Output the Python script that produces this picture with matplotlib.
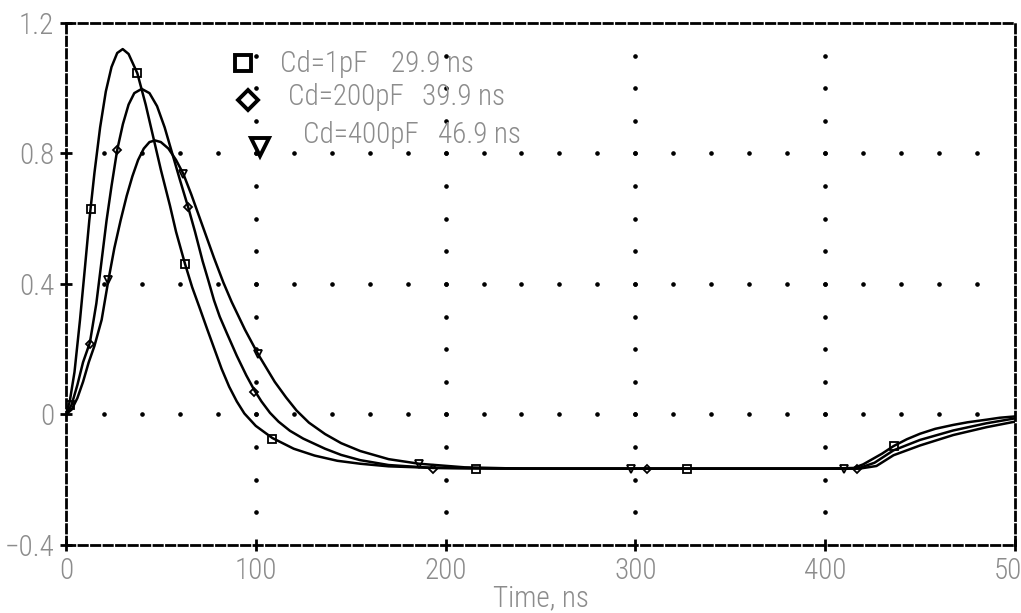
import numpy as np
import matplotlib
matplotlib.use("Agg")
import matplotlib.pyplot as plt
from matplotlib import font_manager as fm

# --- data ---
t_1pF = [0, 2, 4.5, 7.4, 10, 12.3, 15, 18, 21, 24, 27, 29.9, 33, 37.6, 42, 46, 50, 54.8,
         58, 62.7, 66.5, 70.6, 74.5, 78.5, 82, 86, 90, 94, 100, 108.7, 120, 131, 143, 155,
         170, 190, 216, 260, 327, 400, 415, 420, 430, 436, 443, 450, 458, 467.5, 475, 485,
         492, 500]
v_1pF = [0, 0.04, 0.13, 0.29, 0.45, 0.595, 0.74, 0.88, 0.99, 1.065, 1.108, 1.12, 1.105, 1.046,
         0.95, 0.85, 0.75, 0.64, 0.56, 0.462, 0.39, 0.324, 0.26, 0.196, 0.14, 0.085, 0.04,
         0.003, -0.035, -0.072, -0.105, -0.126, -0.142, -0.151, -0.159, -0.163, -0.165,
         -0.166, -0.166, -0.166, -0.164, -0.153, -0.12, -0.097, -0.076, -0.059, -0.044,
         -0.032, -0.024, -0.016, -0.01, -0.006]

t_200pF = [0, 3, 6, 9, 12.6, 16, 21.4, 24, 27, 30, 33, 36, 39.9, 44, 48, 52, 56, 60, 64.4,
           68, 72, 75, 78, 81, 84.7, 90, 95, 99.2, 103, 107.5, 112, 118, 125, 136.5, 145,
           155, 170, 193.5, 230, 306, 400, 417, 426, 436, 450, 467.5, 485, 500]
v_200pF = [0, 0.03, 0.09, 0.16, 0.22, 0.34, 0.595, 0.70, 0.811, 0.89, 0.95, 0.985, 0.998,
           0.985, 0.945, 0.88, 0.80, 0.72, 0.635, 0.56, 0.47, 0.411, 0.35, 0.30, 0.25, 0.18,
           0.12, 0.075, 0.04, 0.005, -0.022, -0.05, -0.074, -0.105, -0.124, -0.14, -0.155,
           -0.164, -0.166, -0.166, -0.166, -0.166, -0.148, -0.11, -0.078, -0.049, -0.027,
           -0.012]

t_400pF = [0, 3, 6, 9, 12, 15, 18.8, 22.3, 25.5, 28.8, 32, 35, 38, 41, 44, 46.9, 50, 54, 58,
           61.8, 66, 70, 74, 78, 82.9, 87.3, 94.3, 101.3, 110, 116, 121.5, 128, 136.5, 145,
           155, 170, 186, 210, 240, 297.7, 410, 418, 427, 436, 450, 467.5, 485, 500]
v_400pF = [0, 0.015, 0.05, 0.10, 0.16, 0.21, 0.29, 0.41, 0.51, 0.595, 0.67, 0.73, 0.78,
           0.815, 0.835, 0.84, 0.835, 0.815, 0.78, 0.738, 0.675, 0.61, 0.545, 0.48, 0.405,
           0.345, 0.26, 0.184, 0.10, 0.052, 0.012, -0.025, -0.06, -0.088, -0.112, -0.137,
           -0.151, -0.162, -0.166, -0.166, -0.166, -0.166, -0.158, -0.125, -0.095, -0.063,
           -0.039, -0.022]

# marker positions along each trace
mk_t_1pF = [2, 13.0, 37.6, 62.7, 108.7, 216, 327, 436]
mk_v_1pF = [0.03, 0.63, 1.046, 0.462, -0.075, -0.166, -0.166, -0.097]
mk_t_200pF = [12.6, 27, 64.4, 99.2, 193.5, 306, 417]
mk_v_200pF = [0.217, 0.811, 0.635, 0.068, -0.166, -0.166, -0.166]
mk_t_400pF = [22.3, 61.8, 101.3, 186, 297.7, 410]
mk_v_400pF = [0.413, 0.738, 0.184, -0.151, -0.166, -0.166]

cap_names = ["Cd=1pF", "Cd=200pF", "Cd=400pF"]
peak_times = ["29.9 ns", "39.9 ns", "46.9 ns"]
xticks = [0, 100, 200, 300, 400, 500]
yticks = [-0.4, 0, 0.4, 0.8, 1.2]
ytick_labels = ["\u22120.4", "0", "0.4", "0.8", "1.2"]

# pick a narrow face if one is around
fonts = fm.fontManager.ttflist
names = {f.name for f in fonts}
font = dict(family="DejaVu Sans", stretch="condensed")
for cand in ["Roboto Condensed", "Liberation Sans Narrow", "Open Sans Condensed",
             "Noto Sans Condensed", "DejaVu Sans Condensed"]:
    if cand in names:
        font = dict(family=cand)
        ws = [f.weight for f in fonts if f.name == cand and f.style == "normal"]
        if any(isinstance(w, int) and w <= 300 for w in ws):
            font["weight"] = "light"
        break

grey = "#8c8c8c"

fig = plt.figure(figsize=(10.21, 6.13), dpi=100)
ax = fig.add_axes([0.0646, 0.111, 0.9295, 0.8515])

# dotted grid (dots every 0.1 on verticals, every 20 ns on horizontals)
gy = np.arange(-0.3, 1.15, 0.1)
for xv in [100, 200, 300, 400]:
    ax.plot([xv] * len(gy), gy, ls="none", marker="o", ms=2.3, color="k", zorder=1)
gx = np.arange(20, 500, 20)
for yv in [0, 0.4, 0.8]:
    ax.plot(gx, [yv] * len(gx), ls="none", marker="o", ms=2.3, color="k", zorder=1)

series = [
    (t_1pF, v_1pF, mk_t_1pF, mk_v_1pF, "s"),
    (t_200pF, v_200pF, mk_t_200pF, mk_v_200pF, "D"),
    (t_400pF, v_400pF, mk_t_400pF, mk_v_400pF, "v"),
]
for t, v, mt, mv, m in series:
    ax.plot(t, v, color="k", lw=1.8, zorder=3)
    ax.plot(mt, mv, ls="none", marker=m, ms=6 if m != "D" else 4.5, mfc="none",
            mec="k", mew=1.3, zorder=4)

ax.set_xlim(0, 500)
ax.set_ylim(-0.4, 1.2)
ax.set_xticks(xticks)
ax.set_yticks(yticks)
ax.set_xticklabels([str(x) for x in xticks], color=grey, fontsize=21, **font)
ax.set_yticklabels(ytick_labels, color=grey, fontsize=21, **font)
ax.tick_params(direction="inout", length=9, width=2, color="k", pad=4)
ax.set_xlabel("Time, ns", color=grey, fontsize=21, labelpad=0, **font)

for s in ax.spines.values():
    s.set_linestyle((0, (3, 1.5)))
    s.set_linewidth(2)
    s.set_color("k")

# legend block (staggered, as in the original)
leg_x = [0.1865, 0.1918, 0.2044]
leg_y = [0.9234, 0.8525, 0.7625]
name_x = [0.2255, 0.2339, 0.2497]
time_x = [0.3425, 0.3751, 0.392]
txt_y = [0.9215, 0.8573, 0.7854]
leg_m = ["s", "D", "v"]
leg_ms = [11, 10.5, 13]
for i in range(3):
    ax.plot([leg_x[i]], [leg_y[i]], transform=ax.transAxes, marker=leg_m[i], ms=leg_ms[i],
            mfc="white", mec="k", mew=2.8, ls="none", zorder=5, clip_on=False)
    ax.text(name_x[i], txt_y[i], cap_names[i], transform=ax.transAxes, color=grey,
            fontsize=21, va="center", ha="left", **font)
    ax.text(time_x[i], txt_y[i], peak_times[i], transform=ax.transAxes, color=grey,
            fontsize=21, va="center", ha="left", **font)

fig.savefig("out.png", dpi=100)
